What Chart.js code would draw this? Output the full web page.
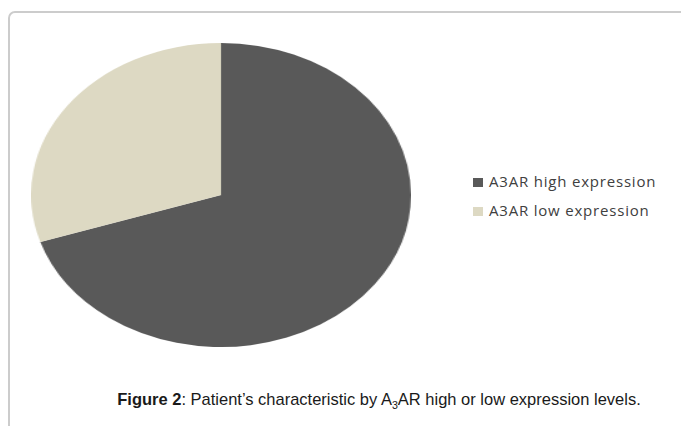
<!DOCTYPE html>
<html lang="en">
<head>
<meta charset="UTF-8">
<title>Figure 2</title>
<script src="https://cdn.jsdelivr.net/npm/chart.js"></script>
<style>
    html, body { margin: 0; padding: 0; background: #fff; }
    body { width: 681px; height: 426px; position: relative; overflow: hidden; }
    .frame {
        position: absolute; left: 8px; top: 11px; width: 760px; height: 440px;
        border: 2px solid #cccccc; border-top-left-radius: 7px; box-sizing: border-box;
    }
    .pie-wrap {
        position: absolute; left: 31px; top: 43px; width: 304px; height: 304px;
        transform: scaleX(1.25); transform-origin: 0 0;
    }
    #legend { position: absolute; left: 473px; top: 169px; font-family: "Open Sans", sans-serif; font-size: 15px; letter-spacing: 0.8px; color: #404040; }
    #legend div { height: 29px; line-height: 24px; white-space: nowrap; }
    #legend span.box { display: inline-block; width: 10px; height: 9px; margin-right: 6px; vertical-align: 0px; }
    .caption {
        position: absolute; left: 379px; top: 390px; transform: translateX(-50%) scaleX(0.97);
        font-family: "Liberation Sans", Arial, sans-serif; font-size: 17px; color: #1a1a1a; white-space: nowrap;
    }
    .caption sub { font-size: 11px; }
</style>
</head>
<body>
<div class="frame"></div>
<div class="pie-wrap"><canvas id="pieChart"></canvas></div>
<div id="legend"></div>
<div class="caption"><b>Figure 2</b>: Patient’s characteristic by A<sub>3</sub>AR high or low expression levels.</div>

<script>
// Data
const labels = ['A3AR high expression', 'A3AR low expression'];
const values = [70, 30];
const colors = ['#595959', '#ddd9c3'];

new Chart(document.getElementById('pieChart'), {
    type: 'pie',
    data: {
        labels: labels,
        datasets: [{
            data: values,
            backgroundColor: colors,
            borderWidth: 0
        }]
    },
    options: {
        responsive: true,
        maintainAspectRatio: false,
        animation: false,
        layout: { padding: 0 },
        plugins: {
            legend: { display: false },
            tooltip: { enabled: false }
        }
    }
});

// legend as html text
const legend = document.getElementById('legend');
labels.forEach((l, i) => {
    const row = document.createElement('div');
    row.innerHTML = '<span class="box" style="background:' + colors[i] + '"></span>' + l;
    legend.appendChild(row);
});
</script>
</body>
</html>
